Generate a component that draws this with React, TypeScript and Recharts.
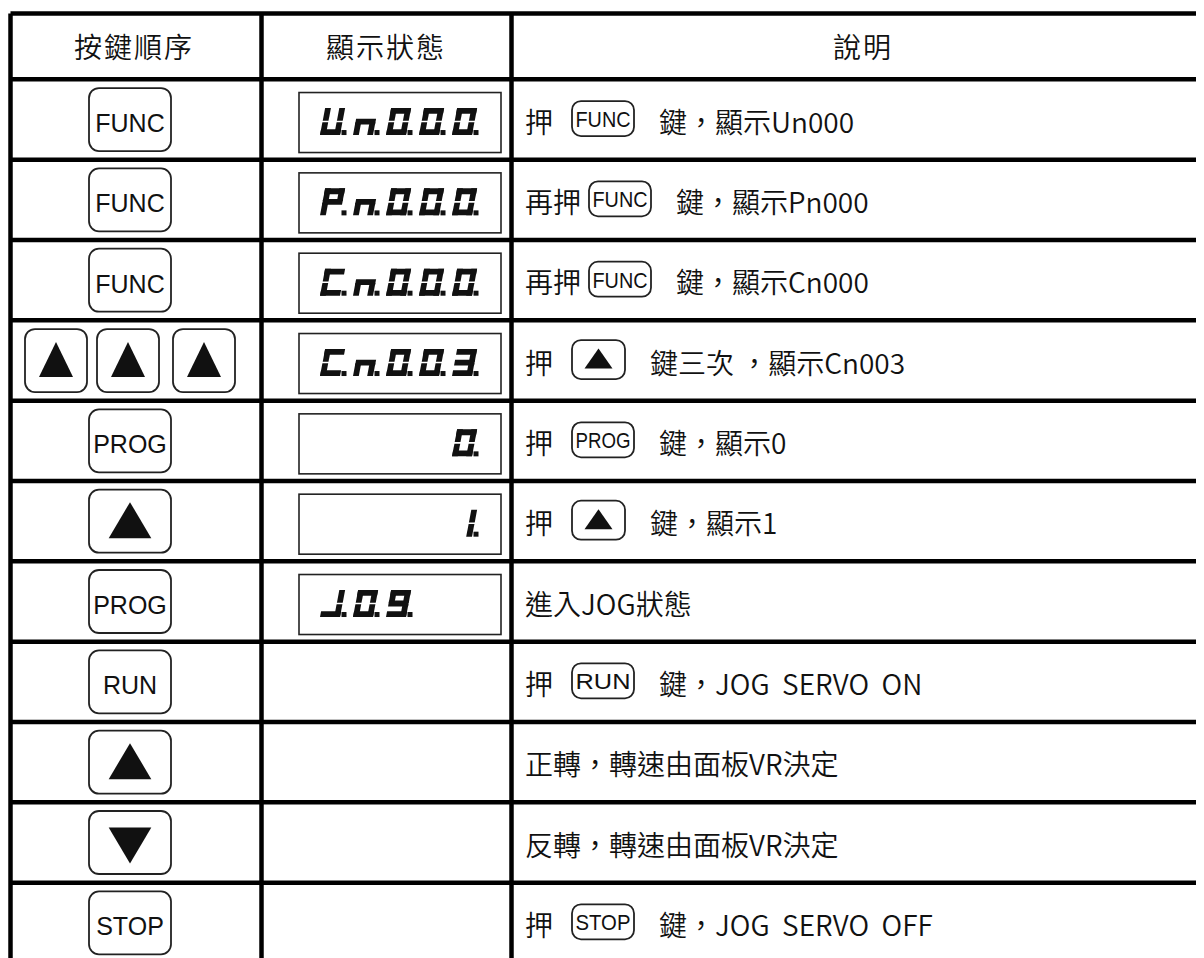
import React from 'react';
import { ScatterChart, Scatter, XAxis, YAxis, CartesianGrid } from 'recharts';

const HEADERS = ['按鍵順序', '顯示狀態', '說明'];

// key pressed at each step ('UP3' = ▲ pressed three times)
const KEY_SEQ = ['FUNC', 'FUNC', 'FUNC', 'UP3', 'PROG', 'UP', 'PROG', 'RUN', 'UP', 'DOWN', 'STOP'];
// 5-position panel readout, each lit digit has its dot on; '' = nothing shown
const DISPLAYS = ['Un000', 'Pn000', 'Cn000', 'Cn003', '    0', '    1', 'J09  ', '', '', '', ''];
// description: text before the key icon, the key icon, text after it
const DESC_PRE = ['押', '再押', '再押', '押', '押', '押', '進入JOG狀態', '押', '正轉，轉速由面板VR決定', '反轉，轉速由面板VR決定', '押'];
const DESC_KEY = ['FUNC', 'FUNC', 'FUNC', 'UP', 'PROG', 'UP', '', 'RUN', '', '', 'STOP'];
const DESC_POST = ['鍵，顯示Un000', '鍵，顯示Pn000', '鍵，顯示Cn000', '鍵三次 ，顯示Cn003', '鍵，顯示0', '鍵，顯示1', '', '鍵，JOG  SERVO  ON', '', '', '鍵，JOG  SERVO  OFF'];

const ROW_COUNT = KEY_SEQ.length;
const HEADER_SPAN = 0.82; // header row height, in body-row units
const ROWS = KEY_SEQ.map((_, i) => ({ x: 0, y: i + 0.5, i }));
const HEADER_ROW = [{ x: 0, y: -HEADER_SPAN / 2 }];
const Y_TICKS = [-HEADER_SPAN, ...Array.from({ length: ROW_COUNT + 1 }, (_, i) => i)];

const CJK = '"Noto Sans CJK TC", "Noto Sans CJK SC", sans-serif';
const LATIN = '"Liberation Sans", Arial, sans-serif';
const INK = '#111';
const WEIGHT = 350;

// layout, measured from the table's left border
const MARGIN_LEFT = 2.5;
const COL_EDGES = [0, 251, 501];
const HEADER_X = [123.5, 375.5, 852.5];
const KEY_X = 119.5;
const TRIPLE_X = [45.5, 117.5, 193.5];
const DISPLAY_X = 288.5;
const DIGIT_X = 309.5;
const DIGIT_PITCH = 33;
const TEXT_X = 514.5;
const FONT = 28;

// seven segment glyphs
const SEG_W = 20, SEG_H = 27, SEG_T = 5.8, SLANT = 0.19;
const SEG_BOX: Record<string, number[]> = {
  a: [0, 0, SEG_W, SEG_T],
  b: [SEG_W - SEG_T, 0, SEG_W, SEG_H / 2 - 0.8],
  c: [SEG_W - SEG_T, SEG_H / 2 + 0.8, SEG_W, SEG_H],
  d: [0, SEG_H - SEG_T, SEG_W, SEG_H],
  e: [0, SEG_H / 2 + 0.8, SEG_T, SEG_H],
  f: [0, 0, SEG_T, SEG_H / 2 - 0.8],
  g: [0, SEG_H / 2 - SEG_T / 2, SEG_W, SEG_H / 2 + SEG_T / 2],
};
const SEG_MAP: Record<string, string> = {
  U: 'bcdef', n: 'ceg', '0': 'abcdef', P: 'abefg', C: 'adef', '3': 'abcdg', '1': 'bc', J: 'bcd', '9': 'abcdfg',
};

const Digit = ({ ox, oy, ch }: any) => {
  const on = SEG_MAP[ch];
  if (!on) return null;
  const pt = (px: number, py: number) => `${ox + px + (SEG_H - py) * SLANT},${oy + py}`;
  return (
    <g fill={INK}>
      {on.split('').map((s) => {
        const [x0, y0, x1, y1] = SEG_BOX[s];
        return <polygon key={s} points={`${pt(x0, y0)} ${pt(x1, y0)} ${pt(x1, y1)} ${pt(x0, y1)}`} />;
      })}
      <rect x={ox + SEG_W + 1.5} y={oy + SEG_H - 5} width={5} height={5} />
    </g>
  );
};

const Triangle = ({ x, y, w, h, down }: any) => {
  const pts = down
    ? `${x - w / 2},${y - h / 2} ${x + w / 2},${y - h / 2} ${x},${y + h / 2}`
    : `${x},${y - h / 2} ${x + w / 2},${y + h / 2} ${x - w / 2},${y + h / 2}`;
  return <polygon points={pts} fill={INK} />;
};

const KeyCap = ({ x, y, w, h, r, name, font, textFit }: any) => (
  <g>
    <rect x={x - w / 2} y={y - h / 2} width={w} height={h} rx={r} ry={r} fill="#fff" stroke="#222" strokeWidth={1.8} />
    {name === 'UP' || name === 'DOWN' ? (
      <Triangle x={x} y={name === 'DOWN' ? y + 3 : y - 1} w={textFit ? 28 : w * 0.52} h={textFit ? 20 : 36} down={name === 'DOWN'} />
    ) : (
      <text
        x={x}
        y={y + font * (textFit ? 0.38 : 0.5)}
        textAnchor="middle"
        fontFamily={LATIN}
        fontSize={font}
        fill={INK}
        {...(textFit ? { textLength: w - 7, lengthAdjust: 'spacingAndGlyphs' } : {})}
      >
        {name}
      </text>
    )}
  </g>
);

const HeaderShape = (props: any) => {
  const { cx, cy } = props;
  return (
    <g>
      {HEADERS.map((h, k) => (
        <text key={h} x={cx + HEADER_X[k]} y={cy} textAnchor="middle" dominantBaseline="central"
          fontFamily={CJK} fontSize={FONT} fontWeight={WEIGHT} letterSpacing={2} fill={INK}>
          {h}
        </text>
      ))}
    </g>
  );
};

const RowShape = (props: any) => {
  const { cx, cy, payload } = props;
  const i = payload.i;
  const key = KEY_SEQ[i];
  const disp = DISPLAYS[i];
  const pre = DESC_PRE[i];
  const inKey = DESC_KEY[i];
  const tx = cx + TEXT_X;
  const keyLeft = tx + Math.max(47, pre.length * FONT + 8);
  const kw = inKey === 'UP' ? 53 : 62;
  const postX = keyLeft + kw + 25;

  return (
    <g>
      {key === 'UP3'
        ? TRIPLE_X.map((kx, k) => (
            <g key={k}>
              <rect x={cx + kx - 31} y={cy - 31.5} width={62} height={63} rx={10} fill="#fff" stroke="#222" strokeWidth={1.8} />
              <Triangle x={cx + kx} y={cy - 1} w={34} h={35} />
            </g>
          ))
        : <KeyCap x={cx + KEY_X} y={cy} w={82} h={63} r={10} name={key} font={25} />}

      {disp && (
        <g>
          <rect x={cx + DISPLAY_X} y={cy + 3 - 30} width={202} height={60} fill="#fff" stroke="#222" strokeWidth={1.6} />
          {disp.split('').map((ch, k) => (
            <Digit key={k} ox={cx + DIGIT_X + k * DIGIT_PITCH} oy={cy - 11.5} ch={ch} />
          ))}
        </g>
      )}

      <text x={tx} y={cy + 1} dominantBaseline="central" fontFamily={CJK} fontSize={FONT} fontWeight={WEIGHT} fill={INK} style={{ whiteSpace: 'pre' }}>
        {pre}
      </text>
      {inKey && (
        <g>
          <KeyCap x={keyLeft + kw / 2} y={cy - 1} w={kw} h={inKey === 'UP' ? 39 : 35} r={9} name={inKey} font={22} textFit />
          <text x={postX} y={cy + 1} dominantBaseline="central" fontFamily={CJK} fontSize={FONT} fontWeight={WEIGHT} fill={INK} style={{ whiteSpace: 'pre' }}>
            {DESC_POST[i]}
          </text>
        </g>
      )}
    </g>
  );
};

export default function App() {
  return (
    <div style={{ width: 1196, height: 950, overflow: 'hidden', background: '#fff' }}>
      <ScatterChart width={1196} height={955} margin={{ top: 5.5, right: 0, bottom: 0, left: MARGIN_LEFT }}>
        <CartesianGrid stroke="#000" strokeWidth={4.5} verticalPoints={COL_EDGES.map((e) => e + MARGIN_LEFT)} />
        <XAxis type="number" dataKey="x" domain={[0, 1]} hide />
        <YAxis type="number" dataKey="y" domain={[-HEADER_SPAN, ROW_COUNT]} ticks={Y_TICKS} reversed hide allowDataOverflow />
        <Scatter data={HEADER_ROW} shape={HeaderShape} isAnimationActive={false} />
        <Scatter data={ROWS} shape={RowShape} isAnimationActive={false} />
      </ScatterChart>
    </div>
  );
}
